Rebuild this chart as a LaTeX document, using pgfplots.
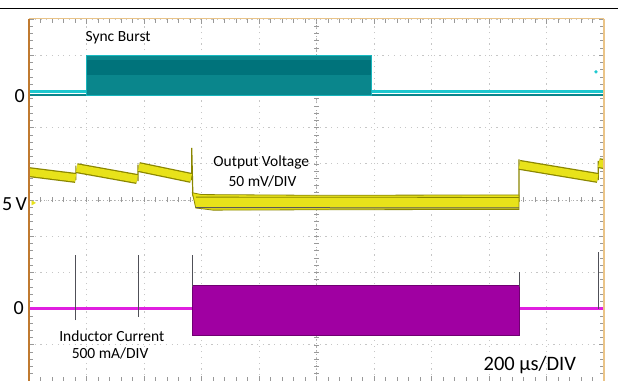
\documentclass[border=0pt]{standalone}
\usepackage{pgfplots}
\pgfplotsset{compat=1.18}
\usepackage{fontspec}
\setmainfont{Carlito}
\definecolor{tealdark}{HTML}{0A868C}
\definecolor{tealdeep}{HTML}{00737B}
\definecolor{cyanline}{HTML}{1CC8CF}
\definecolor{yel}{HTML}{E8E21A}
\definecolor{olive2}{HTML}{8A8600}
\definecolor{mag}{HTML}{E01FE0}
\definecolor{magdark}{HTML}{A000A2}
\definecolor{borderL}{HTML}{C07A30}
\definecolor{borderR}{HTML}{EAC488}
\definecolor{spk}{HTML}{505058}
\begin{document}
\begin{tikzpicture}
\useasboundingbox (0,0) rectangle (618bp,381bp);
\draw[black, line width=0.8bp] (0,373bp) -- (618bp,373bp);
\begin{axis}[
  at={(29bp,0bp)}, anchor=south west,
  scale only axis, width=575bp, height=362bp,
  xmin=0, xmax=10, ymin=0, ymax=10,
  axis line style={draw=none},
  xtick={0,...,10}, ytick={0,...,10},
  minor x tick num=4, minor y tick num=4,
  xticklabels={}, yticklabels={},
  tick align=inside,
  major tick length=5bp, minor tick length=4bp,
  tick style={gray!80, line width=0.6bp},
  grid=major,
  major grid style={gray!45, dash pattern=on 1.2bp off 4.5bp, line width=0.8bp},
  clip=false,
]
% centre lines
\addplot[gray!65, line width=0.6bp, dash pattern=on 1.2bp off 2.5bp] coordinates {(0,5) (10,5)};
\addplot[gray!65, line width=0.6bp, dash pattern=on 1.2bp off 2.5bp] coordinates {(5,0) (5,10)};
\pgfplotsinvokeforeach{0.2,0.4,...,9.8}{
  \draw[gray!80, line width=0.6bp] (axis cs:#1,5) ++(0,-2.5bp) -- ++(0,5bp);
  \draw[gray!80, line width=0.6bp] (axis cs:5,#1) ++(-2.5bp,0) -- ++(5bp,0);
}
% ---- Sync burst
\addplot[tealdark, line width=1.5bp] coordinates {(0,7.9) (10,7.9)};
\addplot[cyanline, line width=3.5bp] coordinates {(0,8.0) (10,8.0)};
\addplot[fill=tealdark, draw=cyanline!70!tealdark, line width=1bp] coordinates {(1.0,7.88) (1.0,9.0) (5.95,9.0) (5.95,7.88)} -- cycle;
\addplot[fill=tealdeep, draw=none] coordinates {(1.0,8.45) (1.0,8.87) (5.95,8.87) (5.95,8.45)} -- cycle;
\addplot[cyanline!80!tealdark, line width=1.2bp] coordinates {(1.0,9.0) (5.95,9.0)};
\addplot[only marks, mark=*, mark size=1.5bp, cyanline] coordinates {(9.86,8.54)};
% ---- Output voltage
\addplot[olive2, line width=1.2bp, unbounded coords=jump] coordinates {
 (0.815,5.55) (0.815,5.95) (0.82,nan)
 (1.895,5.52) (1.895,5.98) (1.90,nan)
 (2.83,5.55) (2.83,6.44) (2.85,5.1) (2.86,nan)
 (8.52,4.95) (8.52,6.12) (8.53,nan)
 (9.90,5.55) (9.90,6.08)};
\addplot[olive2, line width=10bp, unbounded coords=jump] coordinates {
 (0,5.77) (0.81,5.61) (0.82,nan)
 (0.83,5.88) (1.88,5.58) (1.89,nan)
 (1.91,5.91) (2.82,5.61) (2.83,nan)
 (8.53,5.97) (9.89,5.61) (9.90,nan)
 (9.91,6.02) (10,5.99)};
\addplot[yel, line width=7.5bp, unbounded coords=jump] coordinates {
 (0,5.77) (0.81,5.61) (0.82,nan)
 (0.83,5.88) (1.88,5.58) (1.89,nan)
 (1.91,5.91) (2.82,5.61) (2.83,nan)
 (8.53,5.97) (9.89,5.61) (9.90,nan)
 (9.91,6.02) (10,5.99)};
\addplot[fill=yel, draw=olive2, line width=0.8bp] coordinates {(2.84,5.2) (3.0,5.15) (5,5.13) (8.52,5.14) (8.52,4.74) (5,4.73) (3.2,4.72) (2.9,4.78)} -- cycle;
\addplot[black!65, line width=1bp] coordinates {(2.9,4.79) (8.52,4.78)};
\addplot[olive2, line width=0.8bp] coordinates {(2.9,5.08) (8.52,5.07)};
\addplot[only marks, mark=triangle*, mark options={rotate=-90, fill=yel, draw=yel}, mark size=2.5bp] coordinates {(0.07,4.92)};
% ---- Inductor current
\addplot[mag, line width=3.5bp] coordinates {(0,2.0) (2.85,2.0)};
\addplot[mag, line width=3.5bp] coordinates {(8.52,2.0) (10,2.0)};
\addplot[fill=magdark, draw=magdark!70!black, line width=0.8bp] coordinates {(2.85,1.27) (2.85,2.65) (8.52,2.65) (8.52,1.27)} -- cycle;
\addplot[spk, line width=1.2bp, unbounded coords=jump] coordinates {
 (0.81,1.68) (0.81,3.48) (0.82,nan)
 (1.90,1.77) (1.90,3.48) (1.91,nan)
 (2.84,2.6) (2.84,3.48) (2.85,nan)
 (8.53,2.6) (8.53,3.02) (8.54,nan)
 (9.90,2.0) (9.90,3.56)};
% ---- borders
\draw[borderL, line width=2.5bp] (axis cs:0,0) -- (axis cs:0,10);
\draw[borderR, line width=2bp] (axis cs:10,0) -- (axis cs:10,10);
\draw[borderR, line width=1bp] (axis cs:0,10) -- (axis cs:10,10);
% ---- labels
\node[inner sep=0pt, font=\fontsize{15.5bp}{18bp}\selectfont] at (axis cs:1.55,9.48) {Sync Burst};
\node[inner sep=0pt, font=\fontsize{15.5bp}{18bp}\selectfont] at (axis cs:4.04,6.05) {Output Voltage};
\node[inner sep=0pt, font=\fontsize{15.5bp}{18bp}\selectfont] at (axis cs:4.06,5.52) {50 mV/DIV};
\node[inner sep=0pt, font=\fontsize{15.5bp}{18bp}\selectfont] at (axis cs:1.44,1.24) {Inductor Current};
\node[inner sep=0pt, font=\fontsize{15.5bp}{18bp}\selectfont] at (axis cs:1.41,0.75) {500 mA/DIV};
\node[inner sep=0pt, font=\fontsize{20.5bp}{24bp}\selectfont] at (axis cs:8.71,0.44) {200 µs/DIV};
\node[inner sep=0pt, font=\fontsize{20bp}{24bp}\selectfont] at (axis cs:-0.16,7.87) {0};
\node[inner sep=1pt, fill=white, font=\fontsize{20bp}{24bp}\selectfont] at (axis cs:-0.25,4.89) {5\,V};
\node[inner sep=0pt, font=\fontsize{20bp}{24bp}\selectfont] at (axis cs:-0.18,2.02) {0};
\end{axis}
\end{tikzpicture}
\end{document}
